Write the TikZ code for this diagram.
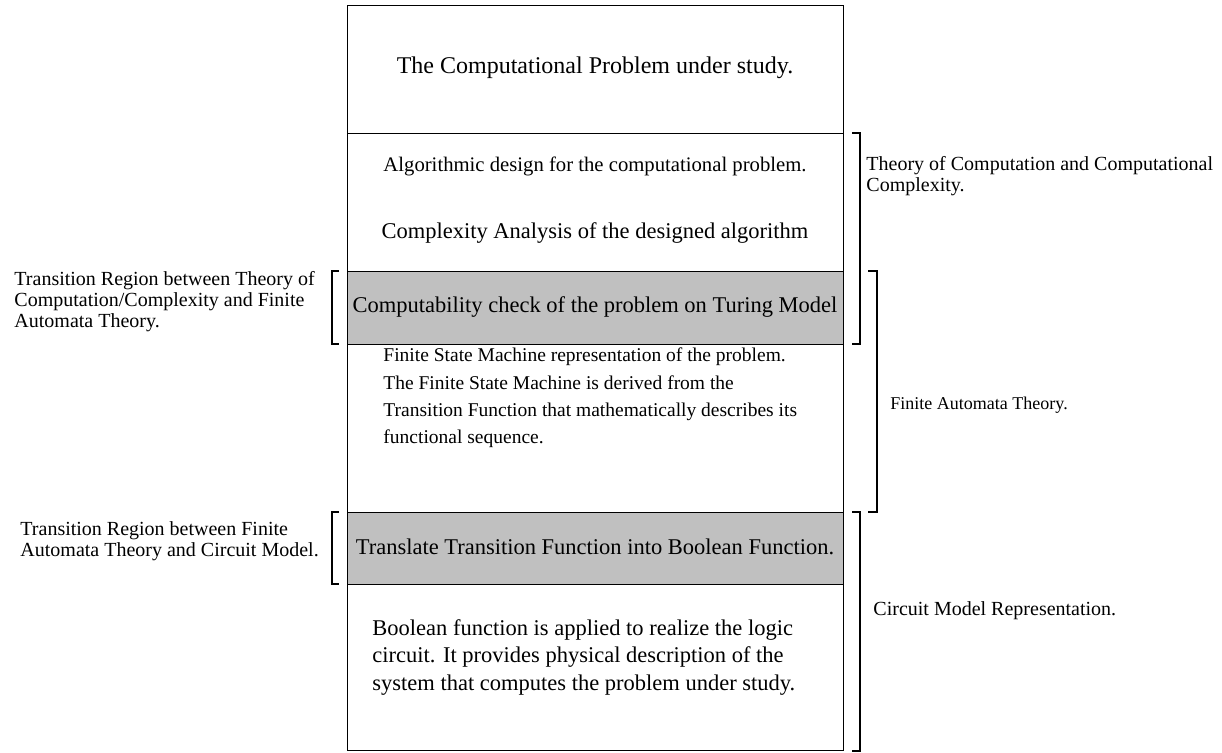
\documentclass[tikz,border=0pt]{standalone}
\usepackage{fontspec}
\setmainfont{Liberation Serif}
\definecolor{regiongray}{RGB}{192,192,192}
\tikzset{
    boxtext/.style = {inner sep=0pt, font=\fontsize{22.5}{27.5}\selectfont},
    sidetext/.style = {inner sep=0pt, align=left, font=\fontsize{20}{21}\selectfont},
    bracket/.style = {line width=1.4pt}
}
\begin{document}
\begin{tikzpicture}[x=1pt, y=-1pt, line width=0.9pt]
                \useasboundingbox (0, 0) rectangle (1222, 752);
                \fill [regiongray] (347, 271) rectangle (843, 344);
                \fill [regiongray] (347, 512) rectangle (843, 584);
                \draw [black] 
                (347, 5) -- (843, 5) -- (843, 750) -- (347, 750) -- (347, 5);
                \draw (347, 133) -- (843, 133);
                \draw (347, 271) -- (843, 271);
                \draw (347, 344) -- (843, 344);
                \draw (347, 512) -- (843, 512);
                \draw (347, 584) -- (843, 584);
                
                % brackets on the right
                \draw [bracket] (852, 133) -- (860, 133) -- (860, 344) -- (852, 344);
                \draw [bracket] (868, 271) -- (877, 271) -- (877, 512) -- (868, 512);
                \draw [bracket] (852, 512) -- (860, 512) -- (860, 751) -- (852, 751);
                % brackets on the left
                \draw [bracket] (339, 271) -- (332, 271) -- (332, 344) -- (339, 344);
                \draw [bracket] (339, 512) -- (332, 512) -- (332, 584) -- (339, 584);
                
                \node [boxtext, font=\fontsize{24}{28}\selectfont] (problem) at (595, 68) {The Computational Problem under study.};
                \node [boxtext, font=\fontsize{20.7}{25}\selectfont] (design) at (595, 166) {Algorithmic design for the computational problem.};
                \node [boxtext] (analysis) at (595, 233) {Complexity Analysis of the designed algorithm};
                \node [boxtext] (turing) at (595, 307) {Computability check of the problem on Turing Model};
                \node [boxtext, font=\fontsize{19.5}{27.3}\selectfont, align=left, anchor=west] (fsm) at (383, 398)
                    {Finite State Machine representation of the problem.\\
                     The Finite State Machine is derived from the\\
                     Transition Function that mathematically describes its\\
                     functional sequence.};
                \node [boxtext] (translate) at (595, 547) {Translate Transition Function into Boolean Function.};
                \node [boxtext, align=left, anchor=west] (circuit) at (372, 657)
                    {Boolean function is applied to realize the logic\\
                     circuit. It provides physical description of the\\
                     system that computes the problem under study.};
                
                \node [sidetext, anchor=west] (toc) at (866, 176) {Theory of Computation and Computational\\Complexity.};
                \node [sidetext, anchor=west, font=\fontsize{18}{21}\selectfont] (fat) at (890, 405) {Finite Automata Theory.};
                \node [sidetext, anchor=west] (cmr) at (873, 611) {Circuit Model Representation.};
                \node [sidetext, anchor=west] (region1) at (14, 302)
                    {Transition Region between Theory of\\
                     Computation/Complexity and Finite\\
                     Automata Theory.};
                \node [sidetext, anchor=west] (region2) at (20, 541)
                    {Transition Region between Finite\\
                     Automata Theory and Circuit Model.};
            \end{tikzpicture}
\end{document}
